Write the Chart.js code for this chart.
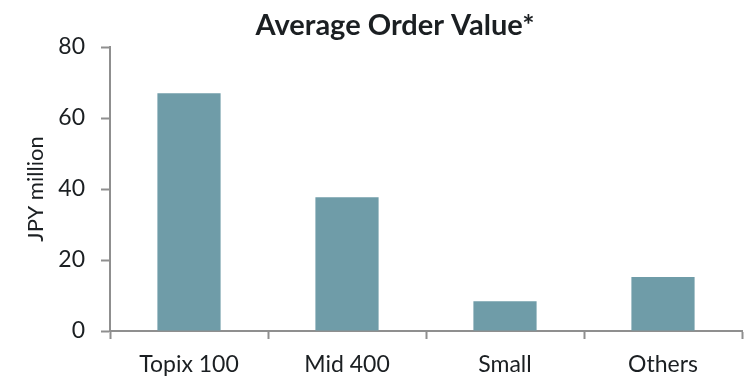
<!DOCTYPE html>
<html>
<head>
<meta charset="utf-8">
<script src="https://cdn.jsdelivr.net/npm/chart.js@4"></script>
<style>
  html, body { margin: 0; padding: 0; background: #ffffff; }
  #wrap { width: 744px; height: 381px; position: relative; }
</style>
</head>
<body>
<div id="wrap"><canvas id="chart"></canvas></div>
<script>
const categories = ['Topix 100', 'Mid 400', 'Small', 'Others'];
const orderValues = [67, 37.7, 8.4, 15.2];
const yTicks = [0, 20, 40, 60, 80];

const FONT = 'Lato, "Open Sans", sans-serif';
const AXIS_GREY = '#8f8f8f';
const TEXT = '#1b1f22';

// Nudge the title so it centres over the plotting region
const titleShift = {
  id: 'titleShift',
  afterLayout(chart) {
    if (chart.titleBlock) {
      chart.titleBlock.left = 48;
    }
  }
};

new Chart(document.getElementById('chart'), {
  type: 'bar',
  data: {
    labels: categories,
    datasets: [{
      data: orderValues,
      backgroundColor: '#6f9ca8',
      borderWidth: 0,
      categoryPercentage: 0.8,
      barPercentage: 0.5
    }]
  },
  options: {
    responsive: true,
    maintainAspectRatio: false,
    animation: false,
    layout: { padding: { top: 0, right: 2, bottom: 0, left: 0 } },
    plugins: {
      legend: { display: false },
      tooltip: { enabled: false },
      title: {
        display: true,
        text: 'Average Order Value*',
        color: TEXT,
        font: { family: FONT, size: 29, weight: 'bold' },
        padding: { top: 8, bottom: 4.2 }
      }
    },
    scales: {
      x: {
        grid: {
          display: true,
          drawOnChartArea: false,
          drawTicks: true,
          tickLength: 8,
          tickColor: AXIS_GREY,
          tickWidth: 2,
          offset: true
        },
        border: { display: true, color: AXIS_GREY, width: 2 },
        ticks: {
          color: TEXT,
          font: { family: FONT, size: 23 },
          padding: 12,
          maxRotation: 0
        },
        afterFit(scale) { scale.height = 50; }
      },
      y: {
        min: 0,
        max: 80,
        afterBuildTicks(scale) {
          scale.ticks = yTicks.map(v => ({ value: v }));
        },
        grid: {
          display: true,
          drawOnChartArea: false,
          drawTicks: true,
          tickLength: 9,
          tickColor: AXIS_GREY,
          tickWidth: 2
        },
        border: { display: true, color: AXIS_GREY, width: 2 },
        ticks: {
          color: TEXT,
          font: { family: FONT, size: 23 },
          padding: 16
        },
        title: {
          display: true,
          text: 'JPY million',
          color: TEXT,
          font: { family: FONT, size: 22 },
          padding: { top: 23, bottom: 0 }
        },
        afterFit(scale) { scale.width = 110; }
      }
    }
  },
  plugins: [titleShift]
});
</script>
</body>
</html>
